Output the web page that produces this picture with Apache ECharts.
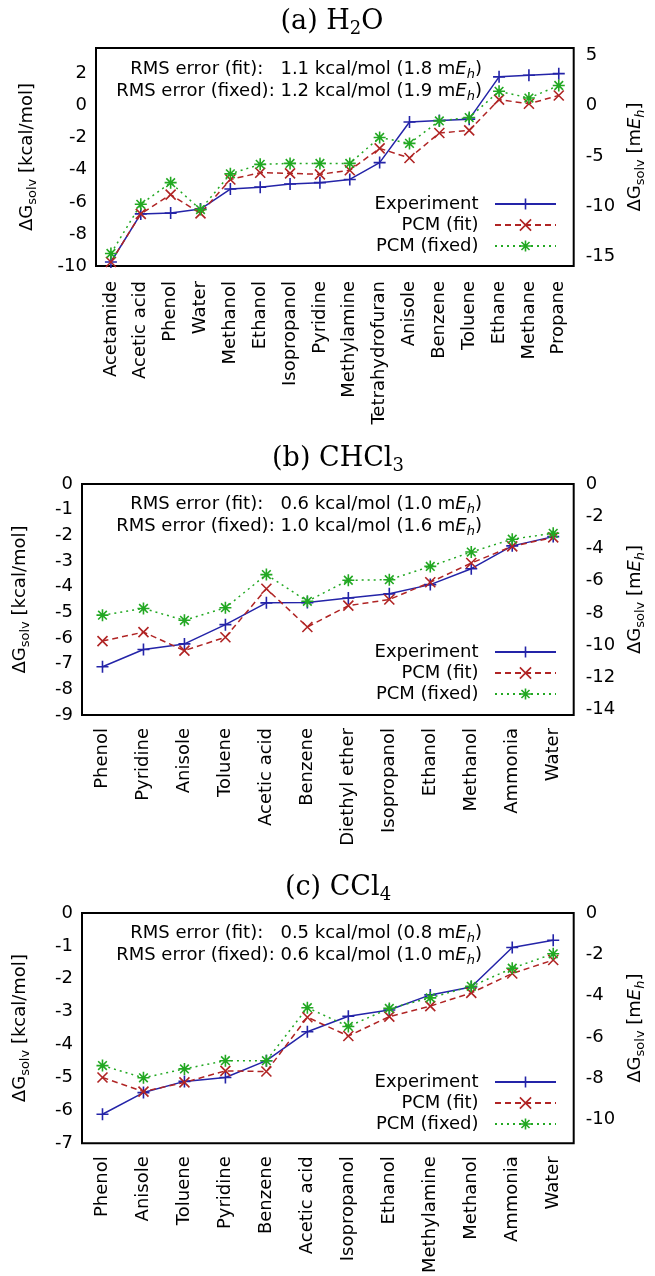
<!DOCTYPE html>
<html>
<head>
<meta charset="utf-8">
<script src="https://cdn.jsdelivr.net/npm/echarts@6/dist/echarts.min.js"></script>
<style>
html, body { margin: 0; padding: 0; background: #fff; }
#chart { width: 655px; height: 1276px; }
</style>
</head>
<body>
<div id="chart"></div>
<script>
// Solvation free energies: experiment vs. PCM with fitted and fixed parameters,
// in water, chloroform and carbon tetrachloride. Values in kcal/mol.
const KCAL_PER_MEH = 0.6275095;
const seriesNames = ['Experiment', 'PCM (fit)', 'PCM (fixed)'];

// (a) water
const waterSolutes = ['Acetamide', 'Acetic acid', 'Phenol', 'Water', 'Methanol', 'Ethanol', 'Isopropanol',
  'Pyridine', 'Methylamine', 'Tetrahydrofuran', 'Anisole', 'Benzene', 'Toluene', 'Ethane', 'Methane', 'Propane'];
const waterExperiment = [-9.75, -6.75, -6.70, -6.45, -5.20, -5.08, -4.88, -4.80, -4.60, -3.55, -1.02, -0.92, -0.84, 1.80, 1.90, 2.00];
const waterPcmFit = [-9.75, -6.75, -5.55, -6.72, -4.60, -4.18, -4.22, -4.28, -4.03, -2.66, -3.26, -1.70, -1.54, 0.38, 0.12, 0.64];
const waterPcmFixed = [-9.22, -6.15, -4.80, -6.48, -4.25, -3.66, -3.60, -3.60, -3.60, -1.98, -2.35, -0.95, -0.74, 0.90, 0.48, 1.26];
const waterRmsKcal = [1.1, 1.2];
const waterRmsMeh = [1.8, 1.9];
const waterKcalTicks = [-10, -8, -6, -4, -2, 0, 2];
const waterMehTicks = [-15, -10, -5, 0, 5];

// (b) chloroform
const chcl3Solutes = ['Phenol', 'Pyridine', 'Anisole', 'Toluene', 'Acetic acid', 'Benzene', 'Diethyl ether',
  'Isopropanol', 'Ethanol', 'Methanol', 'Ammonia', 'Water'];
const chcl3Experiment = [-7.12, -6.45, -6.23, -5.48, -4.63, -4.62, -4.44, -4.28, -3.92, -3.30, -2.41, -2.05];
const chcl3PcmFit = [-6.12, -5.77, -6.49, -5.97, -4.08, -5.57, -4.74, -4.50, -3.83, -3.08, -2.43, -2.08];
const chcl3PcmFixed = [-5.11, -4.85, -5.31, -4.82, -3.53, -4.57, -3.75, -3.73, -3.21, -2.65, -2.15, -1.92];
const chcl3RmsKcal = [0.6, 1.0];
const chcl3RmsMeh = [1.0, 1.6];
const chcl3KcalTicks = [-9, -8, -7, -6, -5, -4, -3, -2, -1, 0];
const chcl3MehTicks = [-14, -12, -10, -8, -6, -4, -2, 0];

// (c) carbon tetrachloride
const ccl4Solutes = ['Phenol', 'Anisole', 'Toluene', 'Pyridine', 'Benzene', 'Acetic acid', 'Isopropanol',
  'Ethanol', 'Methylamine', 'Methanol', 'Ammonia', 'Water'];
const ccl4Experiment = [-6.12, -5.46, -5.12, -5.00, -4.49, -3.61, -3.14, -2.95, -2.49, -2.25, -1.05, -0.83];
const ccl4PcmFit = [-5.00, -5.43, -5.15, -4.80, -4.82, -3.17, -3.74, -3.15, -2.83, -2.43, -1.84, -1.43];
const ccl4PcmFixed = [-4.64, -5.01, -4.74, -4.49, -4.49, -2.88, -3.45, -2.90, -2.58, -2.23, -1.68, -1.24];
const ccl4RmsKcal = [0.5, 0.6];
const ccl4RmsMeh = [0.8, 1.0];
const ccl4KcalTicks = [-7, -6, -5, -4, -3, -2, -1, 0];
const ccl4MehTicks = [-10, -8, -6, -4, -2, 0];

const panels = [
  { title: '(a) H{sub|2}O', solutes: waterSolutes, values: [waterExperiment, waterPcmFit, waterPcmFixed],
    rmsKcal: waterRmsKcal, rmsMeh: waterRmsMeh, kcalTicks: waterKcalTicks, mehTicks: waterMehTicks, yMin: -10, yMax: 3.6 },
  { title: '(b) CHCl{sub|3}', solutes: chcl3Solutes, values: [chcl3Experiment, chcl3PcmFit, chcl3PcmFixed],
    rmsKcal: chcl3RmsKcal, rmsMeh: chcl3RmsMeh, kcalTicks: chcl3KcalTicks, mehTicks: chcl3MehTicks, yMin: -9, yMax: 0 },
  { title: '(c) CCl{sub|4}', solutes: ccl4Solutes, values: [ccl4Experiment, ccl4PcmFit, ccl4PcmFixed],
    rmsKcal: ccl4RmsKcal, rmsMeh: ccl4RmsMeh, kcalTicks: ccl4KcalTicks, mehTicks: ccl4MehTicks, yMin: -7, yMax: 0 }
];

// Page layout of the three stacked panels
const layout = [
  { grid: { left: 96, right: 73, top: 48, height: 218 }, titleX: 332, titleY: 22, rmsY: [69, 91], legendTop: 194, nameGapLeft: 57, labelMargin: 15 },
  { grid: { left: 82, right: 73, top: 484, height: 231 }, titleX: 338, titleY: 459, rmsY: [504, 526], legendTop: 642, nameGapLeft: 50, labelMargin: 13 },
  { grid: { left: 82, right: 73, top: 913, height: 231 }, titleX: 338, titleY: 888, rmsY: [933, 955], legendTop: 1072, nameGapLeft: 50, labelMargin: 13 }
];

const SANS = '"DejaVu Sans", "Liberation Sans", Arial, sans-serif';
const SERIF = '"DejaVu Serif", "Liberation Serif", serif';
const FS = 18;
const FS_SUB = 13;
const lineLooks = [
  { color: '#2424a8', type: 'solid', symbol: 'path://M0,-1L0,1M-1,0L1,0', size: 12 },
  { color: '#b02424', type: [6, 4], symbol: 'path://M-1,-1L1,1M-1,1L1,-1', size: 10 },
  { color: '#22a822', type: [2, 4], symbol: 'path://M0,-1L0,1M-1,0L1,0M-0.72,-0.72L0.72,0.72M-0.72,0.72L0.72,-0.72', size: 12 }
];

const subDrop = 11;
const richSans = {
  s: { fontFamily: SANS, fontSize: FS_SUB, color: '#000', padding: [subDrop, 0, 0, 0] },
  i: { fontFamily: SANS, fontSize: FS, color: '#000', fontStyle: 'italic' },
  si: { fontFamily: SANS, fontSize: FS_SUB, color: '#000', fontStyle: 'italic', padding: [subDrop, 0, 0, 0] }
};

const tickStyle = { inside: true, length: 7, lineStyle: { color: '#000', width: 1.5 } };

const option = {
  animation: false,
  backgroundColor: '#fff',
  grid: [], xAxis: [], yAxis: [], series: [], legend: [], graphic: []
};

panels.forEach((p, k) => {
  const L = layout[k];
  option.grid.push(Object.assign({ show: true, borderColor: '#000', borderWidth: 2, backgroundColor: 'transparent' }, L.grid));

  // bottom category axis with labels, and a mirrored top axis carrying only ticks
  option.xAxis.push({
    type: 'category', gridIndex: k, data: p.solutes, position: 'bottom', boundaryGap: true,
    axisLine: { show: false },
    axisTick: Object.assign({ alignWithLabel: true, interval: 0 }, tickStyle),
    axisLabel: { interval: 0, rotate: 90, margin: L.labelMargin, fontFamily: SANS, fontSize: FS, color: '#000' },
    splitLine: { show: false }
  });
  option.xAxis.push({
    type: 'category', gridIndex: k, data: p.solutes, position: 'top', boundaryGap: true,
    axisLine: { show: false },
    axisTick: Object.assign({ alignWithLabel: true, interval: 0 }, tickStyle),
    axisLabel: { show: false }, splitLine: { show: false }
  });

  // left axis in kcal/mol, right axis in milli-Hartree over the same range
  option.yAxis.push({
    type: 'value', gridIndex: k, position: 'left', min: p.yMin, max: p.yMax,
    axisLine: { show: false },
    axisTick: Object.assign({ customValues: p.kcalTicks }, tickStyle),
    axisLabel: { customValues: p.kcalTicks, margin: 9, fontFamily: SANS, fontSize: FS, color: '#000' },
    splitLine: { show: false },
    name: '\u0394G{s|solv} [kcal/mol]', nameLocation: 'middle', nameRotate: 90, nameGap: L.nameGapLeft,
    nameTextStyle: { fontFamily: SANS, fontSize: FS, color: '#000', rich: richSans }
  });
  option.yAxis.push({
    type: 'value', gridIndex: k, position: 'right', min: p.yMin / KCAL_PER_MEH, max: p.yMax / KCAL_PER_MEH,
    axisLine: { show: false },
    axisTick: Object.assign({ customValues: p.mehTicks }, tickStyle),
    axisLabel: { customValues: p.mehTicks, margin: 12, fontFamily: SANS, fontSize: FS, color: '#000' },
    splitLine: { show: false },
    name: '\u0394G{s|solv} [m{i|E}{si|h}]', nameLocation: 'middle', nameRotate: 90, nameGap: 46,
    nameTextStyle: { fontFamily: SANS, fontSize: FS, color: '#000', rich: richSans }
  });

  p.values.forEach((vals, j) => {
    const look = lineLooks[j];
    option.series.push({
      type: 'line', name: seriesNames[j], xAxisIndex: 2 * k, yAxisIndex: 2 * k, data: vals,
      symbol: look.symbol, symbolSize: look.size, showSymbol: true,
      lineStyle: { color: look.color, width: 1.5, type: look.type },
      itemStyle: { color: look.color, borderColor: look.color, borderWidth: 1.6 },
      emphasis: { disabled: true }, silent: true
    });
  });

  option.legend.push({
    data: seriesNames, orient: 'vertical', align: 'right', right: 98, top: L.legendTop,
    itemWidth: 61, itemHeight: 14, itemGap: 1, padding: 0, selectedMode: false,
    formatter: name => name + '  ',
    textStyle: { fontFamily: SANS, fontSize: FS, color: '#000', lineHeight: 20 },
    itemStyle: { borderWidth: 1.6 }
  });

  option.graphic.push({
    type: 'text', x: L.titleX, y: L.titleY, silent: true,
    style: {
      text: p.title, align: 'center', verticalAlign: 'middle',
      font: '27px ' + SERIF, fill: '#000',
      rich: { sub: { fontFamily: SERIF, fontSize: 18, fill: '#000', padding: [14, 0, 0, 0] } }
    }
  });

  const rmsLabels = ['RMS error (fit):   ', 'RMS error (fixed): '];
  rmsLabels.forEach((lab, j) => {
    option.graphic.push({
      type: 'text', x: 482, y: L.rmsY[j], silent: true,
      style: {
        text: lab + p.rmsKcal[j].toFixed(1) + ' kcal/mol (' + p.rmsMeh[j].toFixed(1) + ' m{i|E}{si|h})',
        align: 'right', verticalAlign: 'middle', font: FS + 'px ' + SANS, fill: '#000',
        rich: {
          i: { fontFamily: SANS, fontSize: FS, fontStyle: 'italic', fill: '#000' },
          si: { fontFamily: SANS, fontSize: FS_SUB, fontStyle: 'italic', fill: '#000', padding: [subDrop, 0, 0, 0] }
        }
      }
    });
  });
});

const chart = echarts.init(document.getElementById('chart'), null, { renderer: 'canvas' });
chart.setOption(option);
</script>
</body>
</html>
